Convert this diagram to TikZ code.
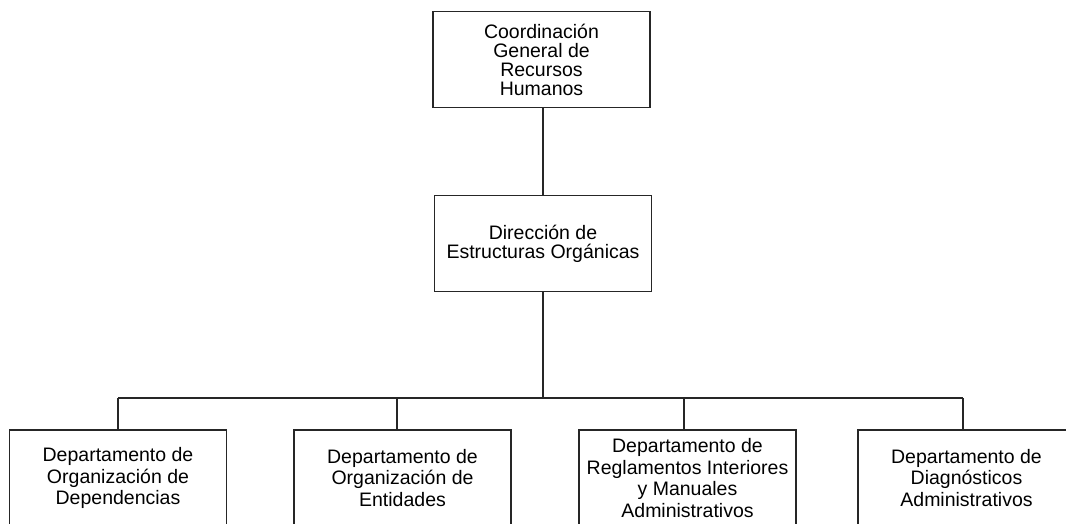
\documentclass[tikz,border=0pt]{standalone}
\usepackage{fontspec}
\setmainfont{Liberation Sans}
\begin{document}
\begin{tikzpicture}[x=1pt,y=-1pt,
  box/.style={draw=black!85, line width=1.1pt, fill=white, minimum width=217pt, minimum height=96pt, align=center, inner sep=0pt, font=\fontsize{19.5}{19}\selectfont},
  lowbox/.style={box, font=\fontsize{19.5}{21.5}\selectfont},
  link/.style={draw=black!85, line width=1.1pt}]
\useasboundingbox (0,0) rectangle (1066,523);
\clip (0,0) rectangle (1066,523);
\node[box] (coord) at (541.5,59.5) {Coordinación\\General de\\Recursos\\Humanos};
\node[box] (dir) at (543,243.5) {Dirección de\\Estructuras Orgánicas};
\node[lowbox] (d1) at (118,478) {Departamento de\\Organización de\\Dependencias};
\node[lowbox] (d2) at (402.5,478) {Departamento de\\Organización de\\Entidades};
\node[lowbox] (d3) at (687.5,478) {Departamento de\\Reglamentos Interiores\\y Manuales\\Administrativos};
\node[lowbox] (d4) at (966.5,478) {Departamento de\\Diagnósticos\\Administrativos};
\coordinate (hub) at (543,398);
\coordinate (b1) at (118,398);
\coordinate (b2) at (397,398);
\coordinate (b3) at (684,398);
\coordinate (b4) at (963,398);
\path[link] (coord.south -| hub) -- (dir.north -| hub);
\path[link] (dir.south -| hub) -- (hub);
\path[link] (b1) -- (b4);
\path[link] (b1) -- (b1 |- d1.north);
\path[link] (b2) -- (b2 |- d2.north);
\path[link] (b3) -- (b3 |- d3.north);
\path[link] (b4) -- (b4 |- d4.north);
\end{tikzpicture}
\end{document}
